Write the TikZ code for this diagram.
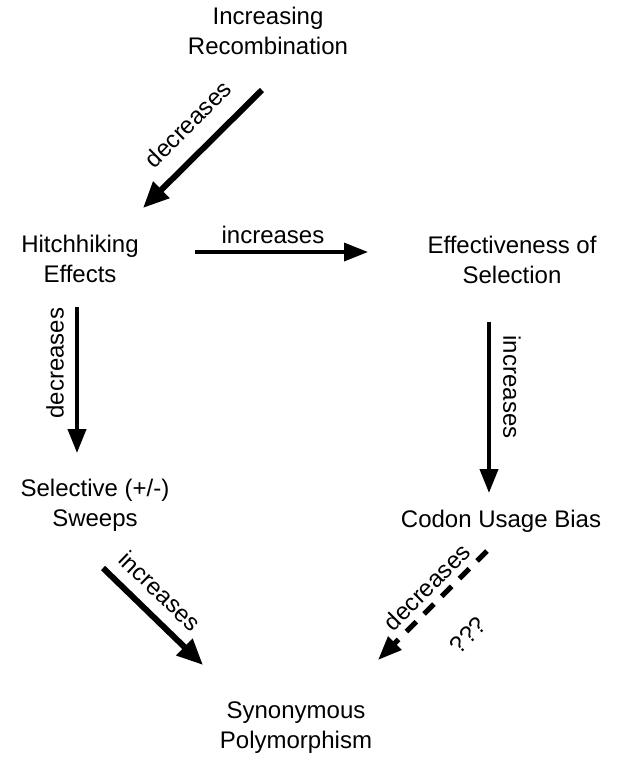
\documentclass[tikz,border=0pt]{standalone}
\usepackage{fontspec}
\setmainfont{Liberation Sans}
\usetikzlibrary{arrows.meta}

\begin{document}
\begin{tikzpicture}[x=0.5pt,y=-0.5pt,
  font=\fontsize{12}{15}\selectfont,
  every node/.style={align=center,inner sep=2pt},
  effect/.style={-{Triangle[length=12pt,width=9pt]},line width=2pt},
  strong/.style={-{Triangle[length=13pt,width=11pt]},line width=3pt}]
\useasboundingbox (0,0) rectangle (618,762);

\node (recomb) at (268,31) {Increasing\\Recombination};
\node (hitch) at (80,259) {Hitchhiking\\Effects};
\node (select) at (512,260) {Effectiveness of\\Selection};
\node (sweeps) at (95,505) {Selective (+/-)\\Sweeps};
\node (codon) at (501,521) {Codon Usage Bias};
\node (synon) at (296,728) {Synonymous\\Polymorphism};

\node (dec1) at (188,124) [rotate=45] {decreases};
\node (inc1) at (273,235) {increases};
\node (inc2) at (512,387) [rotate=-90] {increases};
\node (dec2) at (55,363) [rotate=90] {decreases};
\node (inc3) at (160,591) [rotate=-44] {increases};
\node (dec3) at (427,587) [rotate=45] {decreases};
\node (unsure) at (468,635) [rotate=45] {???};

\draw[strong] ([shift={(-6,59)}]recomb.center) -- ([shift={(63,-51)}]hitch.center);
\draw[effect,line width=1.7pt] ([shift={(115,-7)}]hitch.center) -- ([shift={(-144,-8)}]select.center);
\draw[effect] ([shift={(-23,62)}]select.center) -- ([shift={(-12,-28)}]codon.center);
\draw[effect] ([shift={(-3,48)}]hitch.center) -- ([shift={(-18,-52)}]sweeps.center);
\draw[strong] ([shift={(8,63)}]sweeps.center) -- ([shift={(-93,-63)}]synon.center);
\draw[effect,line width=2.5pt,dash pattern=on 7pt off 5.5pt] ([shift={(-14,30)}]codon.center) -- ([shift={(82,-68)}]synon.center);
\end{tikzpicture}
\end{document}
